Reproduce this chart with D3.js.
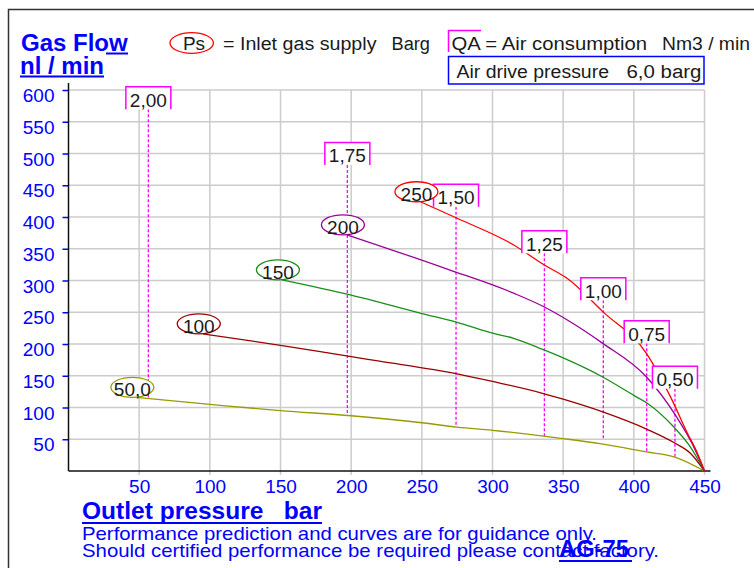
<!DOCTYPE html>
<html>
<head>
<meta charset="utf-8">
<script src="https://cdn.jsdelivr.net/npm/d3@7"></script>
<style>
  body { margin: 0; background: #fff; }
  text { font-family: "Liberation Sans", Arial, sans-serif; }
</style>
</head>
<body>
<div id="chart"></div>
<script>
// axis ticks
var xTicks = [50, 100, 150, 200, 250, 300, 350, 400, 450];
var yTicks = [50, 100, 150, 200, 250, 300, 350, 400, 450, 500, 550, 600];

// inlet gas supply curves (outlet pressure, gas flow)
var psLabels = ["50,0", "100", "150", "200", "250"];
var ps50  = [[48,116],[100,105],[150,95],[200,87],[250,76],[275,69],[300,64],[336,55],[350,51],[376,43],[409,30],[429,22],[450,0]];
var ps100 = [[95,216],[150,198],[200,180],[220,173],[275,153],[300,141],[336,122],[350,113],[378,93],[409,66],[429,44],[440,28],[450,0]];
var ps150 = [[151,301],[200,277],[250,248],[275,234],[300,217],[315,209],[336,191],[350,178],[378,148],[400,119],[410,106],[428,70],[439,41],[450,0]];
var ps200 = [[197,372],[268,318],[315,280],[336,259],[355,235],[378,201],[409,148],[430,86],[441,44],[450,0]];
var ps250 = [[249,424],[275,398],[315,356],[337,324],[353,303],[378,251],[409,185],[427,112],[438,59],[444,33],[450,0]];
var psSeries = [ps50, ps100, ps150, ps200, ps250];
var psColors = ["#9a9a00", "#990000", "#1a8f1a", "#990099", "#ff0000"];

// air consumption lines
var qaLabels = ["2,00", "1,75", "1,50", "1,25", "1,00", "0,75", "0,50"];
var qaX      = [56.5, 197.3, 274.2, 336.7, 378.4, 409.1, 429.1];
var qaTop    = [569.6, 481.9, 416, 342.8, 269, 201, 129.6];
var qaBottom = [114, 86.6, 69.8, 55, 48.8, 28.8, 21.6];

var blue = "#0000ff", magenta = "#ff00ff", ink = "#1a1a1a";

var svg = d3.select("#chart")
  .append("svg")
    .attr("width", 754)
    .attr("height", 568);

var x = d3.scaleLinear().domain([0, 450]).range([68.5, 704.5]);
var y = d3.scaleLinear().domain([0, 600]).range([471, 90]);

// outer frame
svg.append("path")
  .attr("d", "M8.5,568 V9.5 H754")
  .attr("fill", "none")
  .attr("stroke", "#333")
  .attr("stroke-width", 1.5);

// grid
svg.selectAll("hgrid")
  .data(yTicks)
  .enter()
  .append("line")
    .attr("x1", x(0)).attr("x2", x(450))
    .attr("y1", function(d) { return y(d); })
    .attr("y2", function(d) { return y(d); })
    .attr("stroke", "#cccccc")
    .attr("stroke-width", 1.5);
svg.selectAll("vgrid")
  .data(xTicks)
  .enter()
  .append("line")
    .attr("y1", y(600)).attr("y2", y(0) + 4)
    .attr("x1", function(d) { return x(d); })
    .attr("x2", function(d) { return x(d); })
    .attr("stroke", "#cccccc")
    .attr("stroke-width", 1.5);

// Y axis
var yAxis = svg.append("g")
  .attr("transform", "translate(" + x(0) + ",0)")
  .call(d3.axisLeft(y).tickValues(yTicks).tickSize(6).tickPadding(8));
yAxis.select(".domain").remove();
yAxis.selectAll(".tick line").attr("stroke", blue).attr("stroke-width", 1.5);
yAxis.selectAll("text")
  .attr("y", 11.5).attr("dy", 0)
  .attr("fill", blue)
  .style("font-size", "19px");

// X axis
var xAxis = svg.append("g")
  .attr("transform", "translate(0," + y(0) + ")")
  .call(d3.axisBottom(x).tickValues(xTicks).tickSize(0));
xAxis.select(".domain").remove();
xAxis.selectAll("text")
  .attr("y", 21.7).attr("dy", 0)
  .attr("fill", blue)
  .style("font-size", "19px");

// axis lines
svg.append("line")
  .attr("x1", x(0)).attr("x2", x(0))
  .attr("y1", y(600) - 7).attr("y2", y(0))
  .attr("stroke", "#111").attr("stroke-width", 1.5);
svg.append("line")
  .attr("x1", x(0)).attr("x2", x(450) + 6)
  .attr("y1", y(0)).attr("y2", y(0))
  .attr("stroke", "#111").attr("stroke-width", 1.5);

// QA dashed lines
svg.selectAll("qaline")
  .data(qaLabels)
  .enter()
  .append("line")
    .attr("x1", function(d, i) { return x(qaX[i]); })
    .attr("x2", function(d, i) { return x(qaX[i]); })
    .attr("y1", function(d, i) { return y(qaTop[i]); })
    .attr("y2", function(d, i) { return y(qaBottom[i]); })
    .attr("stroke", magenta)
    .attr("stroke-width", 1.3)
    .attr("stroke-dasharray", "3,2");

// curves
var line = d3.line()
  .x(function(d) { return x(d[0]); })
  .y(function(d) { return y(d[1]); })
  .curve(d3.curveMonotoneX);
svg.selectAll("curve")
  .data(psSeries)
  .enter()
  .append("path")
    .attr("d", line)
    .attr("fill", "none")
    .attr("stroke", function(d, i) { return psColors[i]; })
    .attr("stroke-width", 1.3);

// QA value boxes (open at the bottom)
var boxW = 45, boxH = 22.5;
var qaBox = svg.selectAll("qabox")
  .data(qaLabels)
  .enter()
  .append("g")
    .attr("transform", function(d, i) {
      return "translate(" + x(qaX[i]) + "," + y(qaTop[i]) + ")";
    });
qaBox.append("rect")
  .attr("x", -boxW / 2).attr("y", -boxH)
  .attr("width", boxW).attr("height", boxH)
  .attr("fill", "#fff");
qaBox.append("path")
  .attr("d", "M" + (-boxW / 2) + ",0 V" + (-boxH) + " H" + (boxW / 2) + " V0")
  .attr("fill", "none")
  .attr("stroke", magenta)
  .attr("stroke-width", 1.5);
qaBox.append("text")
  .attr("y", -2.5)
  .attr("text-anchor", "middle")
  .attr("fill", ink)
  .style("font-size", "19px")
  .text(function(d) { return d; });

// curve label ellipses at each curve start
var psTag = svg.selectAll("pstag")
  .data(psSeries)
  .enter()
  .append("g")
    .attr("transform", function(d) {
      return "translate(" + (x(d[0][0]) - 4) + "," + (y(d[0][1]) - 10) + ")";
    });
psTag.append("ellipse")
  .attr("rx", 21.5).attr("ry", 10)
  .attr("fill", "#fff")
  .attr("stroke", function(d, i) { return psColors[i]; })
  .attr("stroke-width", 1.3);
psTag.append("text")
  .attr("y", 9)
  .attr("text-anchor", "middle")
  .attr("fill", ink)
  .style("font-size", "19px")
  .text(function(d, i) { return psLabels[i]; });

// header: y title
svg.append("text")
  .attr("x", 21).attr("y", 51)
  .attr("fill", blue)
  .style("font-size", "24px").style("font-weight", "bold")
  .text("Gas Flow");
svg.append("text")
  .attr("x", 20).attr("y", 73.5)
  .attr("fill", blue)
  .style("font-size", "24px").style("font-weight", "bold")
  .text("nl / min");
svg.append("line").attr("x1", 106).attr("x2", 128).attr("y1", 53.5).attr("y2", 53.5)
  .attr("stroke", blue).attr("stroke-width", 2);
svg.append("line").attr("x1", 20).attr("x2", 104).attr("y1", 76.5).attr("y2", 76.5)
  .attr("stroke", blue).attr("stroke-width", 2);

// header: legend
svg.append("ellipse")
  .attr("cx", 191.7).attr("cy", 43)
  .attr("rx", 21.7).attr("ry", 10.3)
  .attr("fill", "#fff").attr("stroke", "#ff0000").attr("stroke-width", 1.3);
svg.append("text")
  .attr("x", 194).attr("y", 50)
  .attr("text-anchor", "middle")
  .attr("fill", ink).style("font-size", "19px")
  .text("Ps");

function headText(t, x0, x1, yb) {
  svg.append("text")
    .attr("x", x0).attr("y", yb)
    .attr("fill", ink).style("font-size", "18px")
    .attr("textLength", x1 - x0).attr("lengthAdjust", "spacingAndGlyphs")
    .text(t);
}
headText("= Inlet gas supply", 223, 376.5, 50);
headText("Barg", 391.5, 430, 50);
headText("QA = Air consumption", 451.5, 647, 49.5);
headText("Nm3 / min", 662, 750, 49.5);
headText("Air drive pressure", 456.5, 609, 78);
headText("6,0 barg", 626.5, 701.5, 78);

svg.append("path")
  .attr("d", "M448.5,52 V30.5 H481")
  .attr("fill", "none").attr("stroke", magenta).attr("stroke-width", 1.5);
svg.append("rect")
  .attr("x", 448.5).attr("y", 56.5).attr("width", 255.5).attr("height", 27.5)
  .attr("fill", "none").attr("stroke", blue).attr("stroke-width", 1.5);

// footer
svg.append("text")
  .attr("x", 82).attr("y", 519)
  .attr("fill", blue)
  .style("font-size", "24px").style("font-weight", "bold")
  .style("white-space", "pre")
  .attr("textLength", 240).attr("lengthAdjust", "spacingAndGlyphs")
  .text("Outlet pressure   bar");
svg.append("line").attr("x1", 82).attr("x2", 322).attr("y1", 523).attr("y2", 523)
  .attr("stroke", blue).attr("stroke-width", 2);

svg.append("text")
  .attr("x", 82).attr("y", 540)
  .attr("fill", blue).style("font-size", "19px")
  .attr("textLength", 515).attr("lengthAdjust", "spacingAndGlyphs")
  .text("Performance prediction and curves are for guidance only.");
svg.append("text")
  .attr("x", 82).attr("y", 557)
  .attr("fill", blue).style("font-size", "19px")
  .attr("textLength", 577).attr("lengthAdjust", "spacingAndGlyphs")
  .text("Should certified performance be required please contact factory.");

svg.append("text")
  .attr("x", 559).attr("y", 557)
  .attr("fill", blue)
  .style("font-size", "24px").style("font-weight", "bold")
  .attr("textLength", 70).attr("lengthAdjust", "spacingAndGlyphs")
  .text("AG-75");
svg.append("line").attr("x1", 559).attr("x2", 632).attr("y1", 561).attr("y2", 561)
  .attr("stroke", blue).attr("stroke-width", 2);
</script>
</body>
</html>
